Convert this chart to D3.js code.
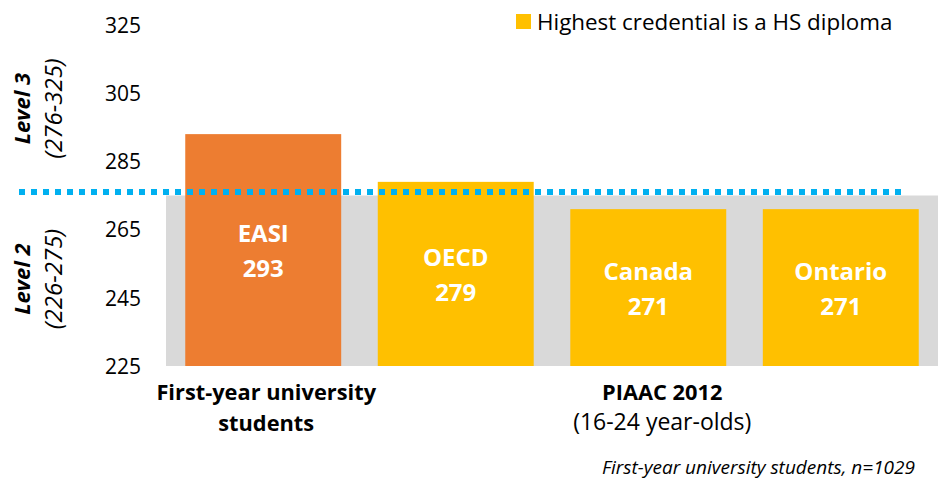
<!DOCTYPE html>
<html><head><meta charset="utf-8">
<script src="https://cdn.jsdelivr.net/npm/d3@7"></script>
<style>
body{margin:0;background:#fff;}
text{font-family:"Open Sans",sans-serif;}
</style></head>
<body><svg id="c" width="938" height="479"></svg>
<script>
const categories = ["EASI","OECD","Canada","Ontario"];
const values = [293,279,271,271];
const barColors = ["#ED7D31","#FFC000","#FFC000","#FFC000"];
const yTicks = [225,245,265,285,305,325];
const level2Range = [225,275];
const level3Threshold = 276;
const legendLabel = "Highest credential is a HS diploma";
const groupLabels = [["First-year university","students"],["PIAAC 2012","(16-24 year-olds)"]];
const levelLabels = [{name:"Level 3",range:"(276-325)",lo:276,hi:325},{name:"Level 2",range:"(226-275)",lo:226,hi:275}];
const footnote = "First-year university students, n=1029";

const svg = d3.select("#c");
const y = d3.scaleLinear().domain([225,325]).range([366,25]);
const x = d3.scaleBand().domain(categories).range([166,938]).paddingInner(0.19).paddingOuter(0.1);

// gray band for level 2
svg.append("rect").attr("x",166).attr("width",938-166)
  .attr("y",y(level2Range[1])).attr("height",y(level2Range[0])-y(level2Range[1]))
  .attr("fill","#D9D9D9");

// bars
svg.selectAll("rect.bar").data(categories).join("rect").attr("class","bar")
  .attr("x",d=>x(d)).attr("width",x.bandwidth())
  .attr("y",(d,i)=>y(values[i])).attr("height",(d,i)=>y(225)-y(values[i]))
  .attr("fill",(d,i)=>barColors[i]);

// dotted threshold line
svg.append("line").attr("x1",19).attr("x2",902)
  .attr("y1",y(level3Threshold)).attr("y2",y(level3Threshold))
  .attr("stroke","#00B0F0").attr("stroke-width",6).attr("stroke-dasharray","6 6");

// y axis
const yAxis = d3.axisLeft(y).tickValues(yTicks).tickSize(0).tickPadding(0);
const ga = svg.append("g").attr("transform","translate(141,0)").call(yAxis);
ga.select(".domain").remove();
ga.selectAll("text").attr("font-family","'Open Sans',sans-serif").attr("font-size",21).attr("fill","#000").attr("dy","0.35em");

// bar labels (centred in each bar)
categories.forEach((c,i)=>{
  const cx = x(c)+x.bandwidth()/2;
  const cy = (y(values[i])+y(225))/2 + 1.5;
  const t = svg.append("text").attr("x",cx).attr("text-anchor","middle")
    .attr("fill","#fff").attr("font-weight","bold").attr("font-size",24);
  t.append("tspan").attr("x",cx).attr("y",cy-17.5).attr("dy","0.35em").text(c);
  t.append("tspan").attr("x",cx).attr("y",cy+17.5).attr("dy","0.35em").text(values[i]);
});

// level labels
levelLabels.forEach(l=>{
  const cy = (y(l.lo)+y(l.hi))/2;
  svg.append("text").attr("transform",`translate(30,${cy}) rotate(-90)`)
    .attr("text-anchor","middle").attr("font-weight","bold").attr("font-style","italic")
    .attr("font-size",22).text(l.name);
  svg.append("text").attr("transform",`translate(62,${cy}) rotate(-90)`)
    .attr("text-anchor","middle").attr("font-style","italic")
    .attr("font-size",24).text(l.range);
});

// legend
svg.append("rect").attr("x",516).attr("y",14).attr("width",15).attr("height",15).attr("fill","#FFC000");
svg.append("text").attr("x",537).attr("y",22).attr("dy","0.35em").attr("font-size",22.4).text(legendLabel);

// group labels
const g1x = x(categories[0])+x.bandwidth()/2+3;
const g2x = (x(categories[1])+x(categories[3])+x.bandwidth())/2+14;
svg.append("text").attr("x",g1x).attr("y",400).attr("text-anchor","middle").attr("font-weight","bold").attr("font-size",21.8).text(groupLabels[0][0]);
svg.append("text").attr("x",g1x).attr("y",431).attr("text-anchor","middle").attr("font-weight","bold").attr("font-size",21.8).text(groupLabels[0][1]);
svg.append("text").attr("x",g2x).attr("y",400).attr("text-anchor","middle").attr("font-weight","bold").attr("font-size",21.8).text(groupLabels[1][0]);
svg.append("text").attr("x",g2x).attr("y",430).attr("text-anchor","middle").attr("font-size",23).text(groupLabels[1][1]);

// footnote
svg.append("text").attr("x",915).attr("y",474).attr("text-anchor","end").attr("font-style","italic").attr("font-size",19).text(footnote);
</script></body></html>
